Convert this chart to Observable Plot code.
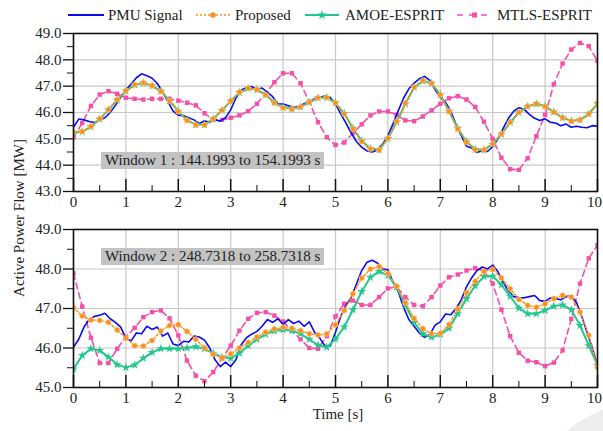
<!DOCTYPE html>
<html>
<head>
<meta charset="utf-8">
<script src="https://cdn.jsdelivr.net/npm/d3@7"></script>
<script src="https://cdn.jsdelivr.net/npm/@observablehq/plot@0.6"></script>
<style>
  html, body { margin: 0; padding: 0; background: #fff; }
  #wrap { position: relative; width: 603px; height: 431px; overflow: hidden; background: #fff; font-family: "Liberation Serif", "DejaVu Serif", serif; color: #222; }
  #wrap svg { overflow: visible; }
  .abs { position: absolute; }
  .winbox { position: absolute; background: #c3c3c3; font-size: 15px; line-height: 17px; height: 17px; padding: 0 4px; white-space: nowrap; color: #222; }
  #blob { position: absolute; left: 525px; top: 402px; width: 240px; height: 240px; border-radius: 50%; background: #ededed; }
</style>
</head>
<body>
<div id="wrap">
  <div id="blob"></div>
  <div id="top" class="abs" style="left:0;top:0"></div>
  <div id="bot" class="abs" style="left:0;top:212px"></div>
  <div id="legend" class="abs" style="left:0;top:0"></div>
  <div class="winbox" style="left:101px;top:152px">Window 1 : 144.1993 to 154.1993 s</div>
  <div class="winbox" style="left:101px;top:248px">Window 2 : 248.7318 to 258.7318 s</div>
  <div class="abs" style="left:0;top:406px;width:676px;text-align:center;font-size:15px">Time [s]</div>
  <div class="abs" style="left:19px;top:218px;width:0;height:0">
    <div style="position:absolute;left:0;top:0;transform:translate(-50%,-50%) rotate(-90deg);white-space:nowrap;font-size:15px">Active Power Flow [MW]</div>
  </div>
</div>
<script>
// ---------- data ----------
const seriesNames = ["PMU Signal", "Proposed", "AMOE-ESPRIT", "MTLS-ESPRIT"];
const xTicks = [0, 1, 2, 3, 4, 5, 6, 7, 8, 9, 10];
const yTicksTop = [43, 44, 45, 46, 47, 48, 49];
const yTicksBot = [45, 46, 47, 48, 49];
const win1Label = "Window 1 : 144.1993 to 154.1993 s";
const win2Label = "Window 2 : 248.7318 to 258.7318 s";

// estimator outputs sampled every 1/6 s (61 points), PMU every 0.1 s (101 points)
const proposed1 = [45.25,45.28,45.47,45.76,46.11,46.49,46.83,47.06,47.13,47.02,46.80,46.44,46.04,45.70,45.53,45.53,45.76,46.08,46.44,46.77,46.92,46.87,46.67,46.37,46.18,46.13,46.21,46.39,46.56,46.57,46.36,45.95,45.38,44.90,44.62,44.58,45.02,45.66,46.35,46.97,47.21,47.11,46.67,46.04,45.38,44.87,44.59,44.58,44.81,45.19,45.63,46.01,46.24,46.33,46.23,46.01,45.80,45.67,45.72,45.95,46.36];
const amoe1 = [45.23,45.27,45.46,45.75,46.10,46.48,46.82,47.05,47.12,47.02,46.81,46.45,46.05,45.71,45.54,45.54,45.76,46.08,46.43,46.76,46.91,46.87,46.68,46.38,46.19,46.14,46.21,46.39,46.55,46.57,46.37,45.96,45.40,44.92,44.63,44.59,45.01,45.64,46.33,46.95,47.20,47.11,46.68,46.05,45.40,44.89,44.60,44.58,44.80,45.18,45.62,46.00,46.23,46.33,46.24,46.02,45.81,45.68,45.72,45.94,46.34];
const mtls1 = [45.06,45.60,46.25,46.68,46.81,46.71,46.56,46.52,46.49,46.52,46.52,46.52,46.45,46.37,46.27,45.97,45.72,45.72,45.80,45.89,46.05,46.33,46.71,47.15,47.49,47.49,47.11,46.40,45.63,45.06,44.77,44.86,45.22,45.55,45.89,46.04,46.04,45.91,45.70,45.67,45.85,46.08,46.33,46.54,46.62,46.49,46.21,45.65,45.00,44.28,43.85,43.82,44.26,45.10,45.91,47.07,47.86,48.39,48.64,48.52,47.96];
const pmu1 = [45.44,45.75,45.72,45.66,45.62,45.71,45.80,46.00,46.27,46.58,46.85,47.08,47.32,47.47,47.40,47.30,47.10,46.78,46.42,46.05,45.90,45.88,45.80,45.72,45.58,45.68,45.64,45.73,45.67,45.80,46.10,46.55,46.85,46.95,46.99,46.88,46.93,46.77,46.60,46.33,46.32,46.26,46.20,46.22,46.33,46.40,46.52,46.58,46.63,46.57,46.33,45.95,45.60,45.22,44.90,44.68,44.54,44.50,44.58,44.80,45.12,45.58,46.08,46.55,46.90,47.12,47.28,47.37,47.22,46.87,46.58,46.38,46.05,45.55,45.12,44.72,44.65,44.48,44.56,44.52,44.70,45.00,45.40,45.78,46.05,46.18,46.12,45.93,45.78,45.70,45.76,45.63,45.60,45.50,45.56,45.44,45.48,45.44,45.42,45.50,45.48];

const proposed2 = [47.02,46.81,46.71,46.70,46.65,46.46,46.25,46.06,46.05,46.19,46.43,46.57,46.59,46.42,46.22,46.00,45.84,45.75,45.85,46.00,46.14,46.28,46.40,46.48,46.52,46.50,46.44,46.36,46.33,46.36,46.59,46.95,47.37,47.77,48.00,48.06,47.88,47.56,47.14,46.75,46.49,46.36,46.37,46.59,46.99,47.40,47.69,47.94,47.99,47.77,47.50,47.23,47.08,47.03,47.12,47.25,47.33,47.29,46.91,46.32,45.51];
const amoe2 = [45.47,45.81,45.98,45.94,45.77,45.58,45.51,45.57,45.74,45.89,45.98,45.98,45.98,46.00,46.03,45.98,45.87,45.77,45.74,45.87,46.06,46.22,46.35,46.43,46.46,46.44,46.36,46.22,46.07,46.02,46.23,46.53,46.97,47.43,47.79,47.94,47.84,47.54,47.09,46.65,46.36,46.27,46.34,46.50,46.87,47.25,47.58,47.81,47.82,47.60,47.31,47.01,46.87,46.87,46.95,47.06,47.09,46.97,46.57,46.06,45.56];
const mtls2 = [47.89,47.05,46.26,45.62,45.62,45.98,46.28,46.51,46.78,46.91,46.95,46.75,46.32,45.68,45.30,45.16,45.39,45.73,46.06,46.44,46.74,46.89,46.91,46.82,46.67,46.44,46.22,46.00,45.98,46.30,46.80,47.12,47.20,47.09,47.09,47.29,47.51,47.54,47.29,47.09,47.06,47.29,47.58,47.79,47.86,47.96,48.02,47.95,47.63,46.97,46.30,45.88,45.68,45.64,45.54,45.63,45.94,46.74,47.63,48.27,48.60];
const pmu2 = [46.02,46.22,46.53,46.72,46.80,46.83,46.88,46.74,46.65,46.53,46.25,46.18,46.38,46.36,46.55,46.47,46.53,46.30,46.38,46.10,46.06,46.17,46.15,46.30,46.28,46.20,46.00,45.70,45.53,45.64,45.53,45.70,46.08,46.26,46.35,46.42,46.55,46.72,46.65,46.74,46.60,46.72,46.62,46.68,46.55,46.66,46.40,46.25,46.05,46.05,46.40,46.80,47.08,47.28,47.62,47.96,48.17,48.22,48.15,48.00,47.98,47.66,47.42,47.03,46.72,46.55,46.38,46.27,46.34,46.58,46.66,46.86,46.84,47.00,47.22,47.55,47.78,47.96,48.05,48.00,48.10,47.93,47.66,47.45,47.30,47.28,47.27,47.30,47.33,47.20,47.18,47.27,47.25,47.22,47.30,47.32,47.15,46.80,46.40,46.00,45.56];

const tEst = d3.range(61).map(k => k / 6);
const tPmu = d3.range(101).map(k => k / 10);

// ---------- styles ----------
const C = { pmu: "#0a0af0", prop: "#f7901e", amoe: "#22c88c", mtls: "#f74fa8", grid: "#c9c9c9" };
const FONT = "Liberation Serif, DejaVu Serif, serif";

function rows(ts, vs) { return ts.map((t, i) => ({ t, v: vs[i] })); }

function panel({ pmu, prop, amoe, mtls, yDomain, yTicks, height, marginTop, marginBottom }) {
  const frameH = height - marginTop - marginBottom;
  const minorY = yTicks.slice(0, -1).map(d => d + 0.5);
  const minorX = xTicks.slice(0, -1).map(d => d + 0.5);
  const P = rows(tEst, prop), A = rows(tEst, amoe), M = rows(tEst, mtls), S = rows(tPmu, pmu);
  return Plot.plot({
    width: 603, height, marginLeft: 73, marginRight: 6, marginTop, marginBottom,
    style: { fontFamily: FONT, fontSize: "15px", color: "#222", background: "transparent", overflow: "visible" },
    x: { domain: [0, 10] },
    y: { domain: yDomain },
    marks: [
      Plot.gridX(xTicks, { stroke: C.grid, strokeOpacity: 1, strokeWidth: 1.2 }),
      Plot.gridY(yTicks, { stroke: C.grid, strokeOpacity: 1, strokeWidth: 1.2 }),
      Plot.line(M, { x: "t", y: "v", stroke: C.mtls, strokeWidth: 1.6, strokeDasharray: "6,4", clip: true }),
      Plot.dot(M, { x: "t", y: "v", symbol: "square", r: 2.5, fill: C.mtls, stroke: null, clip: true }),
      Plot.line(S, { x: "t", y: "v", stroke: C.pmu, strokeWidth: 1.6, clip: true }),
      Plot.line(A, { x: "t", y: "v", stroke: C.amoe, strokeWidth: 2, clip: true }),
      Plot.dot(A, { x: "t", y: "v", symbol: "star", r: 2.8, fill: C.amoe, stroke: null, clip: true }),
      Plot.line(P, { x: "t", y: "v", stroke: C.prop, strokeWidth: 1.4, strokeDasharray: "2,2", clip: true }),
      Plot.dot(P, { x: "t", y: "v", symbol: "circle", r: 2.6, fill: C.prop, stroke: "#ffc777", strokeWidth: 0.7, clip: true }),
      Plot.ruleX(xTicks, { stroke: "#111", strokeWidth: 1.5, insetTop: frameH - 12 }),
      Plot.ruleX(minorX, { stroke: "#111", strokeWidth: 1, insetTop: frameH - 6 }),
      Plot.frame({ stroke: "#111", strokeWidth: 1.6 }),
      Plot.axisY(yTicks, { tickSize: 10, tickPadding: 2, tickFormat: d => d.toFixed(1), label: null, stroke: "#111", strokeWidth: 1.3 }),
      Plot.axisY(minorY, { tickSize: 6, tickFormat: () => "", label: null, stroke: "#111", strokeWidth: 1 }),
      Plot.axisX(xTicks.slice(0, -1), { tickSize: 0, tickPadding: 5, tickFormat: d => String(d), label: null }),
      Plot.axisX(xTicks.slice(-1), { tickSize: 0, tickPadding: 5, tickFormat: d => String(d), label: null, dx: -3 })
    ]
  });
}

document.getElementById("top").append(panel({
  pmu: pmu1, prop: proposed1, amoe: amoe1, mtls: mtls1,
  yDomain: [43, 49], yTicks: yTicksTop, height: 212, marginTop: 33, marginBottom: 21
}));
document.getElementById("bot").append(panel({
  pmu: pmu2, prop: proposed2, amoe: amoe2, mtls: mtls2,
  yDomain: [45, 49], yTicks: yTicksBot, height: 219, marginTop: 17, marginBottom: 44
}));

// ---------- legend ----------
(function legend() {
  const svg = d3.create("svg").attr("width", 603).attr("height", 30)
    .style("font-family", FONT).style("font-size", "15px").style("overflow", "visible");
  const y = 15;
  const items = [
    { name: seriesNames[0], x0: 68, x1: 104, tx: 108, color: C.pmu, dash: null, w: 1.8, sym: null },
    { name: seriesNames[1], x0: 196, x1: 230, tx: 235, color: C.prop, dash: "2,2", w: 1.4, sym: d3.symbolCircle, size: 24 },
    { name: seriesNames[2], x0: 305, x1: 339, tx: 345, color: C.amoe, dash: null, w: 2, sym: d3.symbolStar, size: 28 },
    { name: seriesNames[3], x0: 457, x1: 492, tx: 497, color: C.mtls, dash: "6,6", w: 1.6, sym: d3.symbolSquare, size: 25 }
  ];
  for (const it of items) {
    svg.append("line").attr("x1", it.x0).attr("x2", it.x1).attr("y1", y).attr("y2", y)
      .attr("stroke", it.color).attr("stroke-width", it.w).attr("stroke-dasharray", it.dash);
    if (it.sym) {
      svg.append("path").attr("d", d3.symbol(it.sym, it.size)())
        .attr("transform", `translate(${(it.x0 + it.x1) / 2},${y})`).attr("fill", it.color);
    }
    svg.append("text").attr("x", it.tx).attr("y", y).attr("dy", "0.35em").attr("fill", "#222").text(it.name);
  }
  document.getElementById("legend").append(svg.node());
})();
</script>
</body>
</html>
